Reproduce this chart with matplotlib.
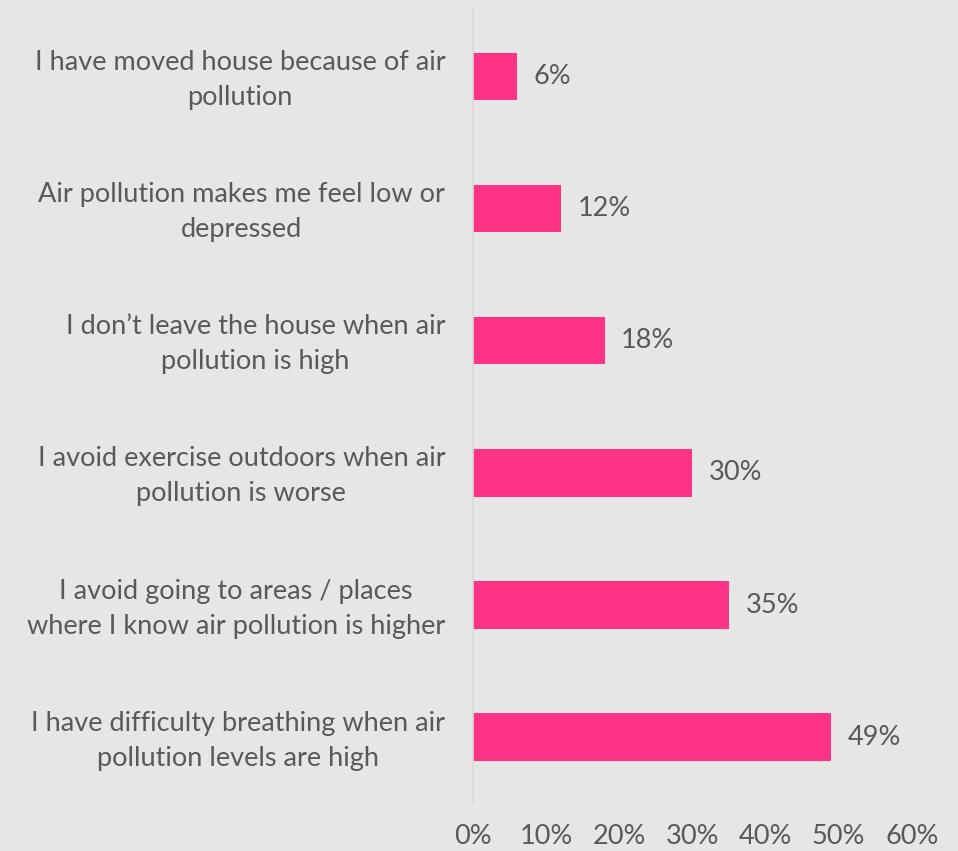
import numpy as np
import matplotlib.pyplot as plt
import matplotlib.transforms as mtransforms

# Survey responses, top to bottom as drawn
labels = [
    "I have moved house because of air\npollution",
    "Air pollution makes me feel low or\ndepressed",
    "I don\u2019t leave the house when air\npollution is high",
    "I avoid exercise outdoors when air\npollution is worse",
    "I avoid going to areas / places\nwhere I know air pollution is higher",
    "I have difficulty breathing when air\npollution levels are high",
]
values = [6, 12, 18, 30, 35, 49]
xticks = [0, 10, 20, 30, 40, 50, 60]

bg = "#E7E6E6"
pink = "#FF3385"
grey = "#595959"
fs = 19.5

plt.rcParams['font.family'] = ['Lato', 'DejaVu Sans']

fig = plt.figure(figsize=(9.58, 8.51), dpi=100, facecolor=bg)
ax = fig.add_axes([0.4937, 0.056, 0.458, 0.932])
ax.set_facecolor(bg)

y = np.arange(len(values))
bars = ax.barh(y, values, height=0.36, color=pink)
ax.set_ylim(len(values) - 0.5, -0.5)
ax.set_xlim(0, 60)

for b, v in zip(bars, values):
    ax.annotate(f"{v}%", (b.get_width(), b.get_y() + b.get_height() / 2),
                xytext=(12, 0), textcoords="offset points",
                ha="left", va="center", fontsize=fs, color=grey)

ax.set_yticks(y)
ax.set_yticklabels(labels, fontsize=fs, color=grey, multialignment="center",
                   linespacing=1.5)
ax.set_xticks(xticks)
ax.set_xticklabels([f"{t}%" for t in xticks], fontsize=fs, color=grey)
ax.tick_params(axis="y", length=0, pad=20)
ax.tick_params(axis="x", length=0, pad=15)

# nudge the category labels up a little
shift = mtransforms.ScaledTranslation(0, 4 / 100, fig.dpi_scale_trans)
for lbl in ax.get_yticklabels():
    lbl.set_transform(lbl.get_transform() + shift)

for s in ["top", "right", "bottom"]:
    ax.spines[s].set_visible(False)
ax.spines["left"].set_color("#D9D9D9")
ax.spines["left"].set_linewidth(1.2)

fig.savefig("out.png", dpi=100, facecolor=bg)
